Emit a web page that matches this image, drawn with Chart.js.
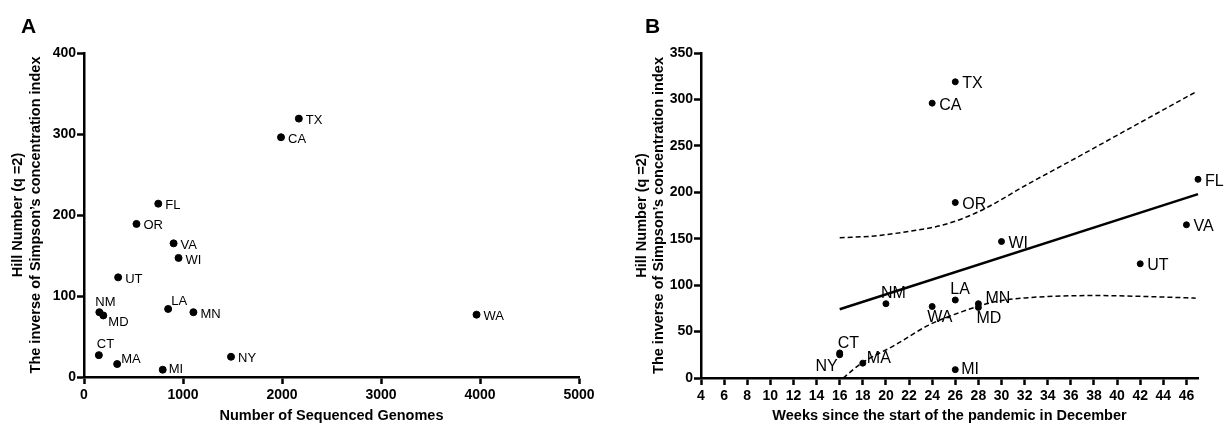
<!DOCTYPE html>
<html>
<head>
<meta charset="utf-8">
<script src="https://cdn.jsdelivr.net/npm/chart.js@4/dist/chart.umd.min.js"></script>
<style>
html, body { margin: 0; padding: 0; background: #fff; }
#wrap { position: relative; width: 1231px; height: 425px; }
.panel { position: absolute; top: 0; height: 425px; }
#panelA { left: 0; width: 600px; }
#panelB { left: 600px; width: 631px; }
</style>
</head>
<body>
<div id="wrap">
  <div class="panel" id="panelA"><canvas id="chartA"></canvas></div>
  <div class="panel" id="panelB"><canvas id="chartB"></canvas></div>
</div>
<script>
const states = ['TX', 'CA', 'FL', 'OR', 'VA', 'WI', 'UT', 'NM', 'MD', 'LA', 'MN', 'CT', 'MA', 'MI', 'NY', 'WA'];
const hillNumber = [319, 296, 214, 189, 165, 147, 123, 80, 76, 84, 80, 27, 16, 9, 25, 77];
const genomes = [2170, 1990, 750, 530, 905, 955, 345, 155, 195, 850, 1105, 150, 335, 795, 1485, 3965];
const weeks = [26, 24, 47, 26, 46, 30, 42, 20, 28, 26, 28, 16, 18, 26, 16, 24];
const weekTicks = [4, 6, 8, 10, 12, 14, 16, 18, 20, 22, 24, 26, 28, 30, 32, 34, 36, 38, 40, 42, 44, 46];

// regression line and 95% band in panel B
const fitWeeks = [16, 47];
const fitValues = [74, 198];
const upperWeeks = [16, 19, 22, 25, 28, 32.4, 36.6, 40.6, 46.8];
const upperValues = [151, 153, 158, 165, 179, 209.6, 238, 265.5, 308];
const lowerWeeks = [16.3, 17.9, 20.8, 23.7, 26.6, 29.4, 32.3, 35.2, 38.1, 42.4, 46.8];
const lowerValues = [0, 16, 35.5, 57, 71.5, 82, 86.5, 88.3, 88.8, 87.8, 86];

const yTitle = ['Hill Number (q =2)', 'The inverse of Simpson\u2019s concentration index'];
const FONT = 'Arial, "Liberation Sans", sans-serif';

// where each state name sits relative to its dot: [dx, dy, align]
const labelPosA = {
    NM: [-4, -10, 'left'], MD: [5, 7, 'left'], LA: [3, -8, 'left'],
    CT: [-2, -10.5, 'left'], MA: [4, -4.5, 'left'], MI: [6, 0, 'left']
};
const labelPosB = {
    NM: [-5, -10.5, 'left'], LA: [-5, -10, 'left'], MN: [7, -5, 'left'],
    MD: [-2, 11, 'left'], WA: [-5, 11.5, 'left'], CT: [-2, -9.5, 'left'],
    NY: [-2, 12, 'right'], MA: [4, -5, 'left'], MI: [6, 0, 'left']
};

const pointLabels = {
    id: 'pointLabels',
    afterDatasetsDraw(chart, args, opts) {
        const ctx = chart.ctx;
        const meta = chart.getDatasetMeta(0);
        ctx.save();
        ctx.fillStyle = '#000';
        ctx.font = opts.size + 'px ' + FONT;
        ctx.textBaseline = 'middle';
        meta.data.forEach((pt, i) => {
            const name = states[i];
            const pos = opts.positions[name] || [7, 2, 'left'];
            ctx.textAlign = pos[2];
            ctx.fillText(name, pt.x + pos[0], pt.y + pos[1]);
        });
        ctx.font = 'bold 21px ' + FONT;
        ctx.textAlign = 'left';
        ctx.textBaseline = 'alphabetic';
        ctx.fillText(opts.letter, opts.letterX, 33);
        ctx.restore();
    }
};

function axis(min, max, step, title) {
    return {
        type: 'linear',
        min: min,
        max: max,
        ticks: {
            stepSize: step,
            color: '#000',
            font: { family: FONT, size: 14, weight: 'bold' },
            padding: 1,
            callback: v => String(v)
        },
        grid: {
            display: true,
            drawOnChartArea: false,
            drawTicks: true,
            tickLength: 7,
            tickWidth: 2.5,
            tickColor: '#000'
        },
        border: { display: true, color: '#000', width: 2.5 },
        title: {
            display: true,
            text: title,
            color: '#000',
            font: { family: FONT, size: 14.5, weight: 'bold' }
        }
    };
}

function baseOptions(layoutPad, letter, letterX, size, positions) {
    return {
        responsive: false,
        animation: false,
        layout: { padding: layoutPad },
        plugins: {
            legend: { display: false },
            tooltip: { enabled: false },
            pointLabels: { letter: letter, letterX: letterX, size: size, positions: positions }
        }
    };
}

function makeCanvas(id, w) {
    const c = document.getElementById(id);
    c.width = w;
    c.height = 425;
    c.style.width = w + 'px';
    c.style.height = '425px';
    return c;
}

// panel A
const optsA = baseOptions({ left: 0, right: 21, top: 53, bottom: 0 }, 'A', 21, 13, labelPosA);
optsA.scales = {
    x: axis(0, 5000, 1000, 'Number of Sequenced Genomes'),
    y: axis(0, 400, 100, yTitle)
};
optsA.scales.x.title.padding = { top: 0, bottom: 0 };
optsA.scales.x.ticks.padding = 3;
optsA.scales.x.afterFit = s => { s.height = 48; };
optsA.scales.y.title.padding = { top: 9.5, bottom: 0 };
optsA.scales.y.afterFit = s => { s.width = 84; };

new Chart(makeCanvas('chartA', 600), {
    type: 'scatter',
    data: {
        datasets: [{
            data: genomes.map((g, i) => ({ x: g, y: hillNumber[i] })),
            backgroundColor: '#000',
            borderColor: '#000',
            pointRadius: 3.5,
            clip: false
        }]
    },
    options: optsA,
    plugins: [pointLabels]
});

// panel B
const optsB = baseOptions({ left: 0, right: 33, top: 53, bottom: 0 }, 'B', 45, 16, labelPosB);
optsB.scales = {
    x: axis(4, 47, 2, 'Weeks since the start of the pandemic in December'),
    y: axis(0, 350, 50, yTitle)
};
optsB.scales.x.ticks.padding = 3;
optsB.scales.x.afterBuildTicks = s => { s.ticks = weekTicks.map(v => ({ value: v })); };
optsB.scales.x.title.padding = { top: 0, bottom: 0 };
optsB.scales.x.afterFit = s => { s.height = 47; };
optsB.scales.y.title.padding = { top: 33, bottom: 0 };
optsB.scales.y.afterFit = s => { s.width = 101; };

const lineStyle = { showLine: true, pointRadius: 0, borderColor: '#000', fill: false, clip: false };

new Chart(makeCanvas('chartB', 631), {
    type: 'scatter',
    data: {
        datasets: [
            {
                data: weeks.map((w, i) => ({ x: w, y: hillNumber[i] })),
                backgroundColor: '#000',
                borderColor: '#000',
                pointRadius: 3,
                clip: false
            },
            Object.assign({
                data: fitWeeks.map((w, i) => ({ x: w, y: fitValues[i] })),
                borderWidth: 2.5
            }, lineStyle),
            Object.assign({
                data: upperWeeks.map((w, i) => ({ x: w, y: upperValues[i] })),
                borderWidth: 1.5,
                borderDash: [5, 3],
                cubicInterpolationMode: 'monotone'
            }, lineStyle),
            Object.assign({
                data: lowerWeeks.map((w, i) => ({ x: w, y: lowerValues[i] })),
                borderWidth: 1.5,
                borderDash: [5, 3],
                cubicInterpolationMode: 'monotone'
            }, lineStyle)
        ]
    },
    options: optsB,
    plugins: [pointLabels]
});
</script>
</body>
</html>
